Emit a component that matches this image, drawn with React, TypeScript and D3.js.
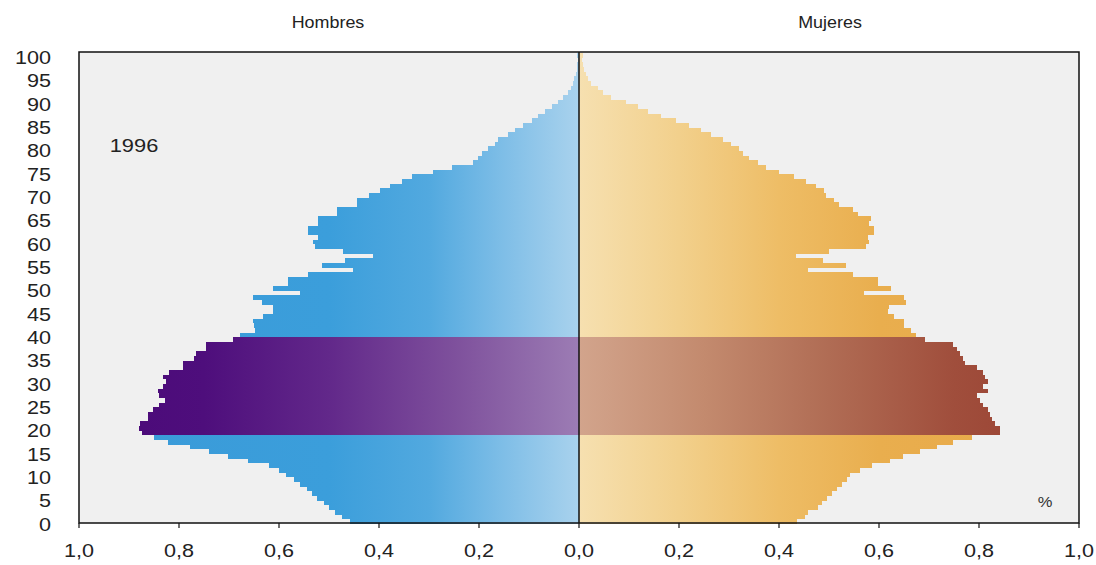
import React from 'react';
import * as d3 from 'd3';

// Population pyramid, Spain 1996 (% of total population per single year of age)
const ages: number[] = d3.range(0, 101);

const hombres: number[] = [
  0.458, 0.474, 0.488, 0.5, 0.51, 0.525, 0.535, 0.545, 0.558, 0.57,
  0.586, 0.6, 0.62, 0.662, 0.702, 0.74, 0.778, 0.822, 0.85,
  0.875, 0.88, 0.878, 0.862, 0.862, 0.852, 0.84, 0.828, 0.84, 0.842,
  0.832, 0.826, 0.832, 0.82, 0.792, 0.792, 0.77, 0.766, 0.746, 0.746, 0.692,
  0.678, 0.648, 0.65, 0.652, 0.632, 0.612, 0.612, 0.634, 0.652, 0.558,
  0.612, 0.582, 0.582, 0.542, 0.452, 0.514, 0.468, 0.412, 0.472, 0.528,
  0.532, 0.522, 0.542, 0.542, 0.522, 0.522, 0.484, 0.484, 0.444, 0.444,
  0.42, 0.398, 0.378, 0.354, 0.334, 0.292, 0.254, 0.212, 0.202, 0.195,
  0.182, 0.168, 0.162, 0.142, 0.128, 0.112, 0.094, 0.082, 0.068, 0.054,
  0.042, 0.032, 0.022, 0.016, 0.013, 0.01, 0.007, 0.005, 0.004, 0.003,
  0.004,
];

const mujeres: number[] = [
  0.435, 0.452, 0.458, 0.478, 0.485, 0.495, 0.505, 0.515, 0.525, 0.535,
  0.542, 0.562, 0.585, 0.622, 0.648, 0.682, 0.715, 0.748, 0.785,
  0.842, 0.842, 0.832, 0.825, 0.822, 0.818, 0.808, 0.802, 0.795, 0.818,
  0.808, 0.818, 0.812, 0.808, 0.795, 0.772, 0.768, 0.762, 0.755, 0.748, 0.692,
  0.674, 0.664, 0.65, 0.65, 0.63, 0.618, 0.62, 0.654, 0.65, 0.57,
  0.624, 0.598, 0.598, 0.548, 0.458, 0.534, 0.488, 0.434, 0.5, 0.574,
  0.58, 0.578, 0.59, 0.59, 0.58, 0.584, 0.558, 0.548, 0.52, 0.51,
  0.494, 0.49, 0.474, 0.454, 0.43, 0.4, 0.374, 0.358, 0.34, 0.328,
  0.32, 0.304, 0.288, 0.264, 0.244, 0.22, 0.194, 0.164, 0.138, 0.118,
  0.094, 0.064, 0.048, 0.038, 0.024, 0.018, 0.014, 0.01, 0.007, 0.005,
  0.008,
];

const highlightFrom = 19;
const highlightTo = 39;

const xTickValues: number[] = [-1, -0.8, -0.6, -0.4, -0.2, 0, 0.2, 0.4, 0.6, 0.8, 1];
const yTickValues: number[] = [0, 5, 10, 15, 20, 25, 30, 35, 40, 45, 50, 55, 60, 65, 70, 75, 80, 85, 90, 95, 100];

const leftTitle = 'Hombres';
const rightTitle = 'Mujeres';
const yearLabel = '1996';
const unitLabel = '%';

export default function App() {
  const W = 1096;
  const H = 565;
  const x = d3.scaleLinear().domain([-1, 1]).range([79, 1079]);
  const y = d3.scaleLinear().domain([0, 101]).range([524, 53]);
  const plotTop = 52;
  const plotBottom = 523;
  const fmt = (v: number) => Math.abs(v).toFixed(1).replace('.', ',');
  const font = '"Liberation Sans", Arial, sans-serif';
  const isHi = (a: number) => a >= highlightFrom && a <= highlightTo;

  return (
    <svg width={W} height={H} style={{ position: 'absolute', left: 0, top: 0, background: '#fff' }}>
      <defs>
        <linearGradient id="gBlue" gradientUnits="userSpaceOnUse" x1={x(0)} x2={x(-1)} y1={0} y2={0}>
          <stop offset="0" stopColor="#a9d2ed" />
          <stop offset="0.15" stopColor="#7fbee7" />
          <stop offset="0.3" stopColor="#52a9df" />
          <stop offset="0.5" stopColor="#3b9edb" />
          <stop offset="1" stopColor="#3a9ad8" />
        </linearGradient>
        <linearGradient id="gPurple" gradientUnits="userSpaceOnUse" x1={x(0)} x2={x(-1)} y1={0} y2={0}>
          <stop offset="0" stopColor="#9c7cb4" />
          <stop offset="0.25" stopColor="#7e509c" />
          <stop offset="0.5" stopColor="#62288a" />
          <stop offset="0.75" stopColor="#4e0e7c" />
          <stop offset="1" stopColor="#4a0878" />
        </linearGradient>
        <linearGradient id="gOrange" gradientUnits="userSpaceOnUse" x1={x(0)} x2={x(1)} y1={0} y2={0}>
          <stop offset="0" stopColor="#f6e0b0" />
          <stop offset="0.2" stopColor="#f2d08c" />
          <stop offset="0.4" stopColor="#eebd66" />
          <stop offset="0.6" stopColor="#e9ae4e" />
          <stop offset="1" stopColor="#e8a848" />
        </linearGradient>
        <linearGradient id="gBrown" gradientUnits="userSpaceOnUse" x1={x(0)} x2={x(1)} y1={0} y2={0}>
          <stop offset="0" stopColor="#d2a48c" />
          <stop offset="0.25" stopColor="#c38a6e" />
          <stop offset="0.5" stopColor="#b06c54" />
          <stop offset="0.75" stopColor="#a04e3c" />
          <stop offset="1" stopColor="#983e30" />
        </linearGradient>
      </defs>

      {/* plot background */}
      <rect x={x(-1)} y={plotTop} width={x(1) - x(-1)} height={plotBottom - plotTop} fill="#f0f0f0" />

      {/* bars */}
      <g shapeRendering="crispEdges">
        {ages.map((a, i) => (
          <rect
            key={'m' + a}
            x={x(-hombres[i])}
            y={y(a + 1)}
            width={x(0) - x(-hombres[i])}
            height={y(a) - y(a + 1)}
            fill={isHi(a) ? 'url(#gPurple)' : 'url(#gBlue)'}
          />
        ))}
        {ages.map((a, i) => (
          <rect
            key={'f' + a}
            x={x(0)}
            y={y(a + 1)}
            width={x(mujeres[i]) - x(0)}
            height={y(a) - y(a + 1)}
            fill={isHi(a) ? 'url(#gBrown)' : 'url(#gOrange)'}
          />
        ))}
      </g>

      {/* frame */}
      <rect x={x(-1)} y={plotTop} width={x(1) - x(-1)} height={plotBottom - plotTop} fill="none" stroke="#111" strokeWidth={1.5} />
      {/* center line */}
      <line x1={x(0)} x2={x(0)} y1={plotTop} y2={plotBottom} stroke="#111" strokeWidth={1.5} />

      {/* x ticks and labels */}
      {xTickValues.map((v) => (
        <g key={'xt' + v}>
          <line x1={x(v)} x2={x(v)} y1={plotBottom} y2={plotBottom + 5} stroke="#111" strokeWidth={1.2} />
          <text
            transform={`translate(${x(v)},${557}) scale(1.2,1)`}
            textAnchor="middle"
            fontFamily={font}
            fontSize={18}
            fill="#222"
          >
            {fmt(v)}
          </text>
        </g>
      ))}

      {/* y labels */}
      {yTickValues.map((a) => (
        <text
          key={'yt' + a}
          transform={`translate(${51},${y(a) + 6.5}) scale(1.2,1)`}
          textAnchor="end"
          fontFamily={font}
          fontSize={18}
          fill="#222"
        >
          {a}
        </text>
      ))}

      {/* titles */}
      <text transform={`translate(${328},${28}) scale(1.12,1)`} textAnchor="middle" fontFamily={font} fontSize={16} fill="#222">
        {leftTitle}
      </text>
      <text transform={`translate(${830},${28}) scale(1.12,1)`} textAnchor="middle" fontFamily={font} fontSize={16} fill="#222">
        {rightTitle}
      </text>
      <text transform={`translate(${134},${152}) scale(1.15,1)`} textAnchor="middle" fontFamily={font} fontSize={19} fill="#222">
        {yearLabel}
      </text>
      <text transform={`translate(${1045},${507}) scale(1.1,1)`} textAnchor="middle" fontFamily={font} fontSize={15} fill="#333">
        {unitLabel}
      </text>
    </svg>
  );
}
